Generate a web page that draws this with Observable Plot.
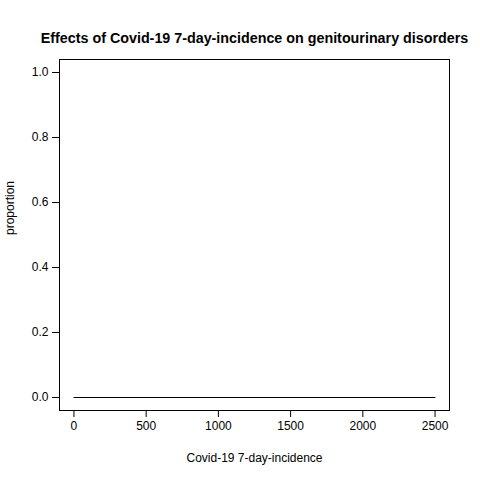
<!DOCTYPE html>
<html><head>
<script src="https://cdn.jsdelivr.net/npm/d3@7"></script>
<script src="https://cdn.jsdelivr.net/npm/@observablehq/plot@0.6"></script>
<style>body{margin:0;background:#fff;font-family:"Liberation Sans",Arial,sans-serif}</style>
</head><body><div id="c"></div>
<script>
const incidence = [0, 2500];
const proportion = [0, 0];
const xTicks = [0, 500, 1000, 1500, 2000, 2500];
const yTicks = [0, 0.2, 0.4, 0.6, 0.8, 1.0];
const data = incidence.map((x, i) => ({x, y: proportion[i]}));
const chart = Plot.plot({
  width: 480, height: 480,
  marginLeft: 59, marginRight: 31, marginTop: 59, marginBottom: 70,
  style: {fontFamily: "Liberation Sans, Arial, sans-serif", fontSize: "12px", color: "#000", background: "#fff"},
  x: {domain: [-100, 2600]},
  y: {domain: [-0.04, 1.04]},
  marks: [
    Plot.frame({stroke: "#000"}),
    Plot.axisX({ticks: xTicks, tickSize: 7, tickPadding: 4, tickFormat: d => String(d), label: null, fontSize: 12}),
    Plot.axisY({ticks: yTicks, tickSize: 7, tickPadding: 4, tickFormat: d3.format(".1f"), label: null, fontSize: 12}),
    Plot.line(data, {x: "x", y: "y", stroke: "#000", strokeWidth: 1}),
    Plot.text(["Effects of Covid-19 7-day-incidence on genitourinary disorders"], {frameAnchor: "top", dy: -27, fontWeight: "bold", fontSize: 14.3}),
    Plot.text(["Covid-19 7-day-incidence"], {frameAnchor: "bottom", dy: 51, fontSize: 12}),
    Plot.text(["proportion"], {frameAnchor: "left", dx: -49, rotate: -90, fontSize: 12})
  ]
});
document.getElementById("c").append(chart);
</script></body></html>
